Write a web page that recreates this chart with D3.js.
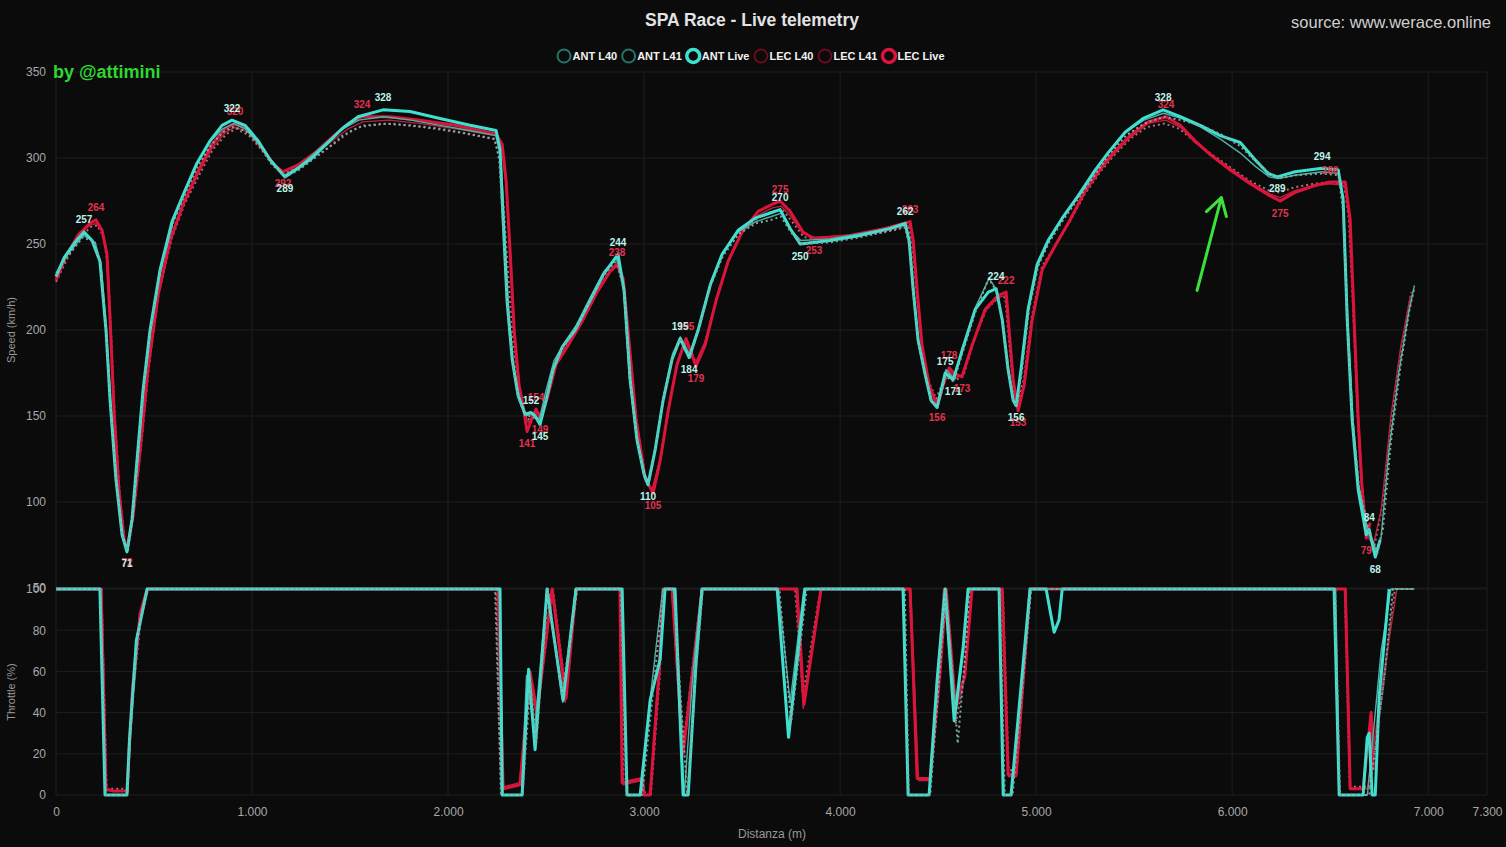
<!DOCTYPE html>
<html lang="it">
<head>
  <meta charset="UTF-8">
  <title>SPA Race - Live telemetry</title>
  <script src="https://d3js.org/d3.v7.min.js"></script>
  <style>
    body { margin: 0; background: #0b0b0b; }
    svg { display: block; font-family: "Liberation Sans", Arial, sans-serif; }
  </style>
</head>
<body>
  <svg width="1506" height="847"></svg>

  <script>
    // ---- data: [distanza (m), valore] ----
    const seriesNames = ["ANT L40", "ANT L41", "ANT Live", "LEC L40", "LEC L41", "LEC Live"];
    const xTicks = [0, 1000, 2000, 3000, 4000, 5000, 6000, 7000, 7300];
    const speedTicks = [50, 100, 150, 200, 250, 300, 350];
    const throttleTicks = [0, 20, 40, 60, 80, 100];

    const antLiveSpeed = [[0,231],[41,242],[97,251],[143,257],[184,252],[224,240],[255,200],[276,159],[306,113],[337,81],[362,71],[388,90],[413,124],[444,165],[480,200],[531,235],[592,263],[658,281],[719,297],[786,310],[847,319],[898,322],[964,319],[1031,310],[1092,299],[1168,289],[1235,294],[1306,300],[1388,309],[1459,317],[1541,324],[1668,328],[1806,327],[1959,323],[2112,319],[2245,316],[2265,305],[2281,264],[2301,217],[2327,183],[2357,162],[2393,151],[2423,152],[2444,150],[2469,145],[2500,159],[2536,177],[2582,190],[2648,200],[2724,217],[2791,232],[2867,244],[2898,223],[2929,171],[2964,136],[3000,116],[3020,110],[3056,130],[3097,159],[3143,183],[3184,195],[3230,184],[3276,200],[3337,226],[3398,244],[3480,258],[3566,265],[3643,268],[3694,270],[3745,259],[3796,250],[3949,252],[4102,255],[4255,259],[4332,262],[4352,252],[4373,223],[4398,194],[4434,174],[4464,159],[4495,155],[4536,175],[4577,171],[4622,188],[4689,212],[4756,222],[4796,224],[4827,206],[4857,177],[4883,159],[4898,156],[4923,177],[4959,212],[5005,238],[5061,252],[5133,265],[5214,278],[5301,293],[5367,303],[5454,315],[5546,323],[5648,328],[5735,324],[5837,319],[5939,313],[6041,309],[6117,299],[6184,291],[6230,289],[6321,292],[6459,294],[6541,293],[6566,276],[6587,206],[6612,148],[6643,107],[6684,81],[6699,84],[6730,68],[6755,78]];
    const antL41Speed = [[0,233],[60,244],[140,255],[200,251],[230,238],[258,198],[280,155],[310,110],[340,80],[365,72],[392,92],[418,125],[448,166],[485,202],[535,236],[600,264],[665,283],[725,298],[790,310],[850,317],[905,320],[965,317],[1030,309],[1095,298],[1165,290],[1240,295],[1310,302],[1390,310],[1465,317],[1545,322],[1670,324],[1810,322],[1960,319],[2110,316],[2245,313],[2270,300],[2290,255],[2310,210],[2335,178],[2365,160],[2400,150],[2430,152],[2465,148],[2500,165],[2540,182],[2590,192],[2655,203],[2730,220],[2795,234],[2860,242],[2895,225],[2925,172],[2960,138],[3000,117],[3025,111],[3060,132],[3100,162],[3145,186],[3185,196],[3232,186],[3280,202],[3340,228],[3400,245],[3480,257],[3570,263],[3650,266],[3700,268],[3750,258],[3800,252],[3950,253],[4100,256],[4250,259],[4335,261],[4355,250],[4378,220],[4400,192],[4440,170],[4470,158],[4500,156],[4540,177],[4580,172],[4625,190],[4690,213],[4760,230],[4800,223],[4830,204],[4860,175],[4885,159],[4900,157],[4925,178],[4962,213],[5010,238],[5065,252],[5140,266],[5220,278],[5300,292],[5370,304],[5455,315],[5550,322],[5650,326],[5740,323],[5840,318],[5940,311],[6040,303],[6120,295],[6190,289],[6235,288],[6320,290],[6460,292],[6545,291],[6568,272],[6590,205],[6615,150],[6645,110],[6690,85],[6735,72],[6760,80],[6800,130],[6850,175],[6900,210],[6930,226]];
    const antL40Speed = [[0,232],[60,243],[138,254],[195,251],[228,239],[255,202],[278,158],[308,112],[338,81],[362,72],[390,90],[416,124],[446,165],[483,200],[533,234],[596,262],[662,280],[722,295],[788,307],[850,315],[902,318],[965,316],[1032,308],[1096,297],[1168,289],[1238,293],[1308,299],[1390,306],[1462,313],[1545,318],[1670,320],[1810,319],[1960,317],[2110,314],[2240,311],[2262,298],[2282,258],[2303,212],[2330,180],[2360,160],[2395,150],[2425,150],[2468,147],[2502,161],[2540,180],[2588,191],[2652,201],[2728,218],[2795,232],[2862,241],[2898,222],[2930,170],[2965,136],[3002,116],[3024,111],[3058,131],[3098,160],[3145,184],[3186,195],[3234,184],[3280,201],[3340,226],[3402,243],[3484,256],[3570,262],[3648,264],[3698,266],[3748,257],[3800,250],[3950,251],[4105,254],[4258,258],[4330,260],[4352,250],[4375,221],[4400,193],[4437,173],[4468,159],[4498,155],[4538,173],[4580,170],[4625,187],[4692,211],[4758,230],[4800,222],[4830,205],[4860,176],[4886,159],[4902,156],[4928,177],[4964,212],[5010,237],[5066,251],[5138,264],[5218,277],[5305,291],[5372,302],[5458,313],[5550,320],[5650,324],[5740,322],[5840,319],[5940,314],[6040,307],[6120,298],[6190,291],[6235,288],[6325,290],[6460,291],[6542,290],[6565,270],[6588,205],[6615,148],[6648,108],[6695,84],[6740,70],[6770,85],[6810,135],[6860,180],[6905,212],[6930,225]];

    const lecLiveSpeed = [[0,229],[51,243],[112,255],[173,262],[204,264],[235,258],[260,244],[276,206],[296,153],[321,107],[347,78],[362,72],[393,92],[429,130],[469,177],[520,220],[582,252],[648,273],[724,292],[796,308],[862,317],[913,320],[980,317],[1051,306],[1112,296],[1158,292],[1235,296],[1321,303],[1408,312],[1490,320],[1561,324],[1704,324],[1857,322],[2036,319],[2245,314],[2276,308],[2296,287],[2316,247],[2337,200],[2362,168],[2388,152],[2403,141],[2434,150],[2449,154],[2469,149],[2505,160],[2551,180],[2612,191],[2684,205],[2760,222],[2827,234],[2862,238],[2893,230],[2918,200],[2959,148],[3005,114],[3046,105],[3082,124],[3123,153],[3168,180],[3214,195],[3265,179],[3311,191],[3367,217],[3429,240],[3500,257],[3582,269],[3653,273],[3694,275],[3745,269],[3811,257],[3867,253],[4051,255],[4230,259],[4357,263],[4373,252],[4393,223],[4418,191],[4454,168],[4495,156],[4526,168],[4556,178],[4587,174],[4622,173],[4673,191],[4740,212],[4806,220],[4847,222],[4862,200],[4883,171],[4908,153],[4939,168],[4980,206],[5031,235],[5097,249],[5173,264],[5250,281],[5327,294],[5393,303],[5480,313],[5571,321],[5663,324],[5735,319],[5811,310],[5888,302],[5990,293],[6092,285],[6194,278],[6245,275],[6321,280],[6423,284],[6500,286],[6577,286],[6602,264],[6622,206],[6643,148],[6663,107],[6684,79],[6704,88]];
    const lecL41Speed = [[0,230],[55,244],[115,256],[175,261],[205,262],[235,257],[258,245],[275,208],[295,155],[320,108],[345,80],[362,74],[392,93],[430,132],[470,178],[522,220],[585,252],[650,273],[725,291],[798,306],[865,315],[915,318],[980,315],[1050,305],[1110,296],[1160,292],[1235,296],[1320,302],[1410,310],[1490,317],[1565,321],[1700,322],[1860,320],[2040,317],[2240,313],[2275,305],[2295,285],[2318,245],[2340,198],[2365,167],[2392,152],[2410,146],[2440,152],[2470,150],[2505,162],[2550,181],[2610,192],[2685,206],[2760,223],[2830,235],[2860,239],[2892,230],[2918,198],[2958,150],[3005,115],[3040,107],[3082,125],[3125,155],[3170,181],[3212,193],[3262,181],[3310,193],[3368,218],[3430,241],[3500,257],[3585,267],[3655,271],[3700,272],[3750,266],[3810,256],[3870,254],[4050,255],[4230,258],[4355,261],[4372,250],[4395,220],[4420,190],[4455,168],[4492,158],[4525,168],[4555,176],[4590,172],[4625,174],[4675,192],[4740,211],[4805,219],[4845,220],[4862,198],[4885,170],[4905,155],[4940,170],[4980,207],[5032,236],[5100,250],[5175,264],[5250,280],[5330,293],[5395,302],[5480,312],[5570,320],[5660,322],[5735,318],[5810,309],[5890,302],[5990,294],[6090,286],[6195,279],[6245,277],[6320,281],[6420,284],[6500,285],[6575,284],[6600,262],[6622,205],[6645,147],[6665,108],[6690,80],[6720,75],[6760,95],[6810,150],[6860,190],[6910,220]];
    const lecL40Speed = [[0,228],[60,242],[120,254],[180,260],[210,261],[240,255],[262,240],[280,200],[300,150],[325,105],[350,78],[368,72],[398,95],[435,133],[475,180],[525,222],[590,253],[655,273],[730,290],[800,305],[870,314],[920,317],[985,313],[1055,304],[1115,295],[1165,291],[1240,295],[1325,301],[1415,308],[1495,315],[1570,319],[1710,320],[1870,318],[2050,315],[2235,311],[2262,300],[2285,270],[2308,230],[2330,195],[2358,168],[2388,153],[2410,148],[2445,153],[2475,150],[2510,164],[2555,182],[2615,193],[2690,207],[2765,224],[2835,236],[2862,237],[2895,226],[2922,195],[2962,147],[3008,113],[3045,106],[3085,126],[3128,156],[3172,182],[3215,194],[3268,180],[3315,194],[3372,219],[3435,242],[3505,258],[3590,266],[3660,269],[3705,270],[3755,263],[3815,254],[3875,253],[4055,254],[4235,257],[4350,260],[4368,248],[4390,222],[4416,192],[4452,170],[4490,160],[4522,169],[4552,175],[4590,171],[4628,173],[4680,193],[4745,212],[4810,219],[4842,219],[4860,196],[4882,168],[4903,156],[4938,172],[4978,208],[5030,237],[5098,249],[5172,263],[5248,279],[5328,292],[5393,301],[5478,311],[5565,318],[5655,320],[5730,317],[5805,310],[5885,303],[5985,295],[6085,287],[6190,281],[6240,280],[6318,283],[6418,285],[6498,286],[6570,285],[6595,265],[6618,210],[6640,150],[6662,110],[6688,82],[6725,74],[6770,100],[6820,155],[6870,195],[6915,222]];

    const antLiveThrottle = [[0,100],[224,100],[250,0],[362,0],[375,27],[410,75],[465,100],[2265,100],[2276,0],[2378,0],[2411,61],[2444,22],[2505,100],[2587,46],[2628,80],[2653,100],[2888,100],[2913,0],[2980,0],[3031,46],[3082,66],[3107,100],[3158,100],[3199,0],[3225,0],[3265,64],[3296,100],[3679,100],[3737,28],[3821,100],[4321,100],[4347,0],[4454,0],[4495,56],[4536,100],[4582,36],[4628,72],[4653,100],[4811,100],[4832,0],[4872,0],[4969,100],[5051,100],[5074,88],[5092,79],[5117,85],[5133,100],[6520,100],[6546,0],[6668,0],[6689,28],[6699,30],[6714,0],[6730,0],[6750,48],[6801,100]];
    const antL41Throttle = [[0,100],[226,100],[252,0],[363,0],[378,28],[415,78],[468,100],[2262,100],[2280,0],[2375,0],[2400,58],[2440,30],[2505,100],[2585,45],[2650,100],[2885,100],[2912,0],[2985,0],[3035,50],[3095,100],[3150,100],[3205,0],[3250,60],[3292,100],[3685,100],[3745,45],[3815,100],[4325,100],[4348,0],[4455,0],[4500,58],[4538,100],[4590,40],[4630,70],[4655,100],[4812,100],[4835,0],[4875,0],[4972,100],[6528,100],[6548,0],[6690,0],[6760,70],[6810,100],[6930,100]];
    const antL40Throttle = [[0,100],[228,100],[255,0],[365,0],[380,30],[420,80],[470,100],[2240,100],[2270,0],[2380,0],[2420,55],[2450,25],[2510,100],[2580,48],[2660,100],[2880,100],[2910,0],[2990,0],[3040,45],[3100,100],[3150,100],[3220,0],[3260,55],[3300,100],[3690,100],[3750,35],[3830,100],[4330,100],[4350,0],[4460,0],[4500,50],[4540,100],[4600,25],[4640,70],[4660,100],[4815,100],[4840,0],[4880,0],[4975,100],[6525,100],[6550,0],[6700,0],[6780,60],[6820,100],[6930,100]];
    const lecLiveThrottle = [[0,100],[230,100],[255,3],[290,2],[362,2],[390,51],[429,88],[465,100],[2255,100],[2281,3],[2367,5],[2418,60],[2454,40],[2531,100],[2602,47],[2653,100],[2877,100],[2888,6],[2990,8],[3000,0],[3031,0],[3077,60],[3097,100],[3143,100],[3199,20],[3296,100],[3780,100],[3816,44],[3903,100],[4357,100],[4393,8],[4459,8],[4510,60],[4541,100],[4587,45],[4635,57],[4673,100],[4827,100],[4857,10],[4898,10],[4969,100],[6577,100],[6602,3],[6668,3],[6709,40],[6720,12]];
    const lecL41Throttle = [[0,100],[234,100],[257,2],[360,2],[388,50],[428,86],[466,100],[2258,100],[2283,4],[2365,6],[2415,58],[2450,38],[2528,100],[2598,45],[2650,100],[2882,100],[2892,5],[2988,7],[2998,0],[3030,0],[3075,62],[3095,100],[3140,100],[3195,18],[3292,100],[3775,100],[3812,42],[3900,100],[4360,100],[4400,7],[4458,7],[4528,100],[4585,38],[4635,58],[4670,100],[4830,100],[4858,9],[4900,9],[4968,100],[6580,100],[6604,3],[6690,3],[6760,50],[6840,100],[6925,100]];
    const lecL40Throttle = [[0,100],[232,100],[258,3],[362,3],[392,48],[432,85],[468,100],[2245,100],[2270,4],[2370,5],[2420,55],[2455,42],[2535,100],[2600,50],[2655,100],[2880,100],[2895,6],[2995,7],[3005,0],[3035,0],[3080,58],[3100,100],[3145,100],[3200,25],[3295,100],[3770,100],[3810,48],[3900,100],[4355,100],[4395,8],[4462,8],[4530,100],[4590,35],[4640,60],[4670,100],[4830,100],[4860,12],[4900,12],[4970,100],[6575,100],[6600,4],[6700,4],[6760,45],[6830,100],[6930,100]];

    // etichette dei picchi: [distanza, velocità, sopra/sotto]
    const antLabels = [[143,257,"max"],[362,71,"min"],[898,322,"max"],[1168,289,"min"],[1668,328,"max"],[2423,152,"max"],[2469,145,"min"],[2867,244,"max"],[3020,110,"min"],[3184,195,"max"],[3230,184,"min"],[3694,270,"max"],[3796,250,"min"],[4332,262,"max"],[4536,175,"max"],[4577,171,"min"],[4796,224,"max"],[4898,156,"min"],[5648,328,"max"],[6230,289,"min"],[6459,294,"max"],[6699,84,"max"],[6730,68,"min"]];
    const lecLabels = [[204,264,"max"],[362,72,"min"],[913,320,"max"],[1158,292,"min"],[1561,324,"max"],[2403,141,"min"],[2449,154,"max"],[2469,149,"min"],[2862,238,"max"],[3046,105,"min"],[3214,195,"max"],[3265,179,"min"],[3694,275,"max"],[3867,253,"min"],[4357,263,"max"],[4495,156,"min"],[4556,178,"max"],[4622,173,"min"],[4847,222,"max"],[4908,153,"min"],[5663,324,"max"],[6245,275,"min"],[6500,286,"max"],[6684,79,"min"]];

    // freccia verde (annotazione): da [dist, km/h] a [dist, km/h]
    const arrowFrom = [5821, 223];
    const arrowTo = [5945, 277];

    // ---- setup ----
    const svg = d3.select("svg");
    svg.append("rect").attr("width", 1506).attr("height", 847).attr("fill", "#0b0b0b");

    const x = d3.scaleLinear().domain([0, 7300]).range([56, 1487]);
    const ySpeed = d3.scaleLinear().domain([50, 350]).range([588, 72]);
    const yThr = d3.scaleLinear().domain([0, 100]).range([795, 589]);

    const itLocale = d3.formatLocale({decimal: ",", thousands: ".", grouping: [3], currency: ["€", ""]});
    const fmt = itLocale.format(",");

    const styles = {
      "ANT L40":  {color: "#7faaa4", width: 2,   dash: "2,3", legend: "#237566", lw: 2},
      "ANT L41":  {color: "#4fb0a3", width: 1.4, dash: null,  legend: "#237566", lw: 2},
      "ANT Live": {color: "#40e0d0", width: 3,   dash: null,  legend: "#40e0d0", lw: 3.5},
      "LEC L40":  {color: "#b86a78", width: 2,   dash: "2,3", legend: "#6c0a1e", lw: 2},
      "LEC L41":  {color: "#b0263e", width: 1.4, dash: null,  legend: "#6c0a1e", lw: 2},
      "LEC Live": {color: "#dc143c", width: 3,   dash: null,  legend: "#dc143c", lw: 3.5}
    };

    // grid
    const grid = svg.append("g").attr("stroke", "#1f1f1f").attr("stroke-width", 1);
    xTicks.forEach(t => grid.append("line").attr("x1", x(t)).attr("x2", x(t)).attr("y1", 72).attr("y2", 795));
    speedTicks.forEach(t => grid.append("line").attr("x1", 56).attr("x2", 1487).attr("y1", ySpeed(t)).attr("y2", ySpeed(t)));
    throttleTicks.forEach(t => grid.append("line").attr("x1", 56).attr("x2", 1487).attr("y1", yThr(t)).attr("y2", yThr(t)));

    // axes
    function styleAxis(g) {
      g.select(".domain").remove();
      g.selectAll("text").attr("fill", "#a8a8a8").style("font-size", "12px");
    }
    svg.append("g").attr("transform", "translate(56,0)")
      .call(d3.axisLeft(ySpeed).tickValues(speedTicks).tickSize(0).tickPadding(10))
      .call(styleAxis);
    svg.append("g").attr("transform", "translate(56,0)")
      .call(d3.axisLeft(yThr).tickValues(throttleTicks).tickSize(0).tickPadding(10))
      .call(styleAxis);
    svg.append("g").attr("transform", "translate(0,795)")
      .call(d3.axisBottom(x).tickValues(xTicks).tickFormat(fmt).tickSize(0).tickPadding(12))
      .call(styleAxis);

    // axis titles
    svg.append("text").attr("transform", "translate(15,330) rotate(-90)").attr("text-anchor", "middle")
      .attr("fill", "#999").style("font-size", "11px").text("Speed (km/h)");
    svg.append("text").attr("transform", "translate(15,692) rotate(-90)").attr("text-anchor", "middle")
      .attr("fill", "#999").style("font-size", "11px").text("Throttle (%)");
    svg.append("text").attr("x", 772).attr("y", 838).attr("text-anchor", "middle")
      .attr("fill", "#999").style("font-size", "12px").text("Distanza (m)");

    // lines
    const speedLine = d3.line().x(d => x(d[0])).y(d => ySpeed(d[1]));
    const thrLine = d3.line().x(d => x(d[0])).y(d => yThr(d[1]));

    const speedData = {
      "ANT L40": antL40Speed, "ANT L41": antL41Speed, "ANT Live": antLiveSpeed,
      "LEC L40": lecL40Speed, "LEC L41": lecL41Speed, "LEC Live": lecLiveSpeed
    };
    const throttleData = {
      "ANT L40": antL40Throttle, "ANT L41": antL41Throttle, "ANT Live": antLiveThrottle,
      "LEC L40": lecL40Throttle, "LEC L41": lecL41Throttle, "LEC Live": lecLiveThrottle
    };

    const drawOrder = ["LEC L40", "LEC L41", "LEC Live", "ANT L41", "ANT Live", "ANT L40"];
    const plot = svg.append("g");
    drawOrder.forEach(name => {
      const s = styles[name];
      plot.append("path").datum(throttleData[name])
        .attr("d", thrLine).attr("fill", "none")
        .attr("stroke", s.color).attr("stroke-width", s.width)
        .attr("stroke-dasharray", s.dash).attr("stroke-linejoin", "round");
    });
    drawOrder.forEach(name => {
      const s = styles[name];
      plot.append("path").datum(speedData[name])
        .attr("d", speedLine).attr("fill", "none")
        .attr("stroke", s.color).attr("stroke-width", s.width)
        .attr("stroke-dasharray", s.dash).attr("stroke-linejoin", "round");
    });

    // peak labels
    function drawLabels(data, fill) {
      svg.append("g").selectAll("text").data(data).enter().append("text")
        .attr("x", d => x(d[0]))
        .attr("y", d => ySpeed(d[1]) + (d[2] === "max" ? -12 : 12))
        .attr("dy", "0.35em")
        .attr("text-anchor", "middle")
        .attr("fill", fill)
        .style("font-size", "10px").style("font-weight", "bold")
        .text(d => d[1]);
    }
    drawLabels(lecLabels, "#e0334f");
    drawLabels(antLabels, "#bdf3ea");

    // arrow annotation
    const ax1 = x(arrowFrom[0]), ay1 = ySpeed(arrowFrom[1]);
    const ax2 = x(arrowTo[0]), ay2 = ySpeed(arrowTo[1]);
    svg.append("path")
      .attr("d", `M${ax1},${ay1}L${ax2},${ay2}M${ax2 - 15},${ay2 + 14}L${ax2},${ay2}L${ax2 + 5},${ay2 + 19}`)
      .attr("fill", "none").attr("stroke", "#3be23b").attr("stroke-width", 3)
      .attr("stroke-linecap", "round").attr("stroke-linejoin", "round");

    // title, source, credit
    svg.append("text").attr("x", 752).attr("y", 26).attr("text-anchor", "middle")
      .attr("fill", "#e2e2e2").style("font-size", "17.5px").style("font-weight", "bold")
      .text("SPA Race - Live telemetry");
    svg.append("text").attr("x", 1491).attr("y", 28).attr("text-anchor", "end")
      .attr("fill", "#cfcfcf").style("font-size", "16.5px")
      .text("source: www.werace.online");
    svg.append("text").attr("x", 53).attr("y", 78)
      .attr("fill", "#2fd62f").style("font-size", "18px").style("font-weight", "bold")
      .text("by @attimini");

    // legend
    const legend = svg.append("g");
    let lx = 564;
    seriesNames.forEach(name => {
      const s = styles[name];
      legend.append("circle").attr("cx", lx).attr("cy", 56).attr("r", 6.5)
        .attr("fill", "none").attr("stroke", s.legend).attr("stroke-width", s.lw);
      const t = legend.append("text").attr("x", lx + 8.5).attr("y", 60)
        .attr("fill", "#f2f2f2").style("font-size", "11px").style("font-weight", "bold")
        .text(name);
      lx = lx + 8.5 + t.node().getComputedTextLength() + 11.5;
    });
  </script>
</body>
</html>
